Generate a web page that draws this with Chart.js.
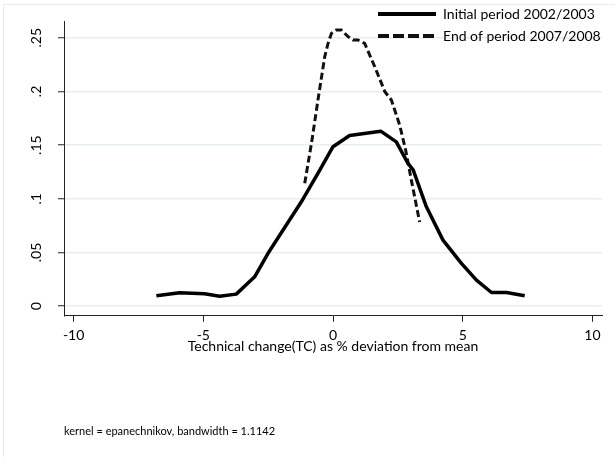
<!DOCTYPE html>
<html>
<head>
<meta charset="utf-8">
<script src="https://cdn.jsdelivr.net/npm/chart.js@4/dist/chart.umd.min.js"></script>
<style>
  body { margin: 0; background: #fff; }
  #frame { position: absolute; left: 3px; top: 4px; width: 640px; height: 480px;
           border-left: 1px solid #e4ecef; border-top: 1px solid #e4ecef; }
  #kdens { position: absolute; left: 0; top: 0; }
</style>
</head>
<body>
<div id="frame"></div>
<canvas id="kdens" width="615" height="457"></canvas>
<script>
// kernel density, initial period 2002/2003
const initX = [-6.81, -5.91, -4.95, -4.37, -3.73, -3.02, -2.51, -1.22, -0.51, 0.0, 0.64, 1.84, 2.44, 2.89, 3.09, 3.6, 4.24, 4.95, 5.53, 6.11, 6.69, 7.39]
const initY = [0.0096, 0.0124, 0.0115, 0.0093, 0.0112, 0.0273, 0.049, 0.0972, 0.1267, 0.1485, 0.159, 0.163, 0.153, 0.133, 0.127, 0.0925, 0.0615, 0.0398, 0.0242, 0.0127, 0.0127, 0.0096]

// end of period 2007/2008
const endX = [-1.09, -0.83, -0.58, -0.32, -0.19, -0.06, 0.13, 0.32, 0.58, 0.77, 0.96, 1.22, 1.61, 2.0, 2.25, 2.57, 2.8, 3.02, 3.34]
const endY = [0.1144, 0.1516, 0.192, 0.2323, 0.2448, 0.2541, 0.2572, 0.2572, 0.251, 0.2479, 0.2479, 0.2448, 0.223, 0.1997, 0.192, 0.1687, 0.1454, 0.1174, 0.0783]

const seriesNames = ['Initial period 2002/2003', 'End of period 2007/2008']
const xTicks = [-10, -5, 0, 5, 10]
const xTickLabels = ['-10', '-5', '0', '5', '10']
const yTicks = [0, 0.05, 0.1, 0.15, 0.2, 0.25]
const yTickLabels = ['0', '.05', '.1', '.15', '.2', '.25']
const xTitle = 'Technical change(TC) as % deviation from mean'
const note = 'kernel = epanechnikov, bandwidth = 1.1142'

const toPoints = (xs, ys) => xs.map((x, i) => ({ x: x, y: ys[i] }))

// legend sits inside the plot region (top right), so keep it out of the layout
const floatLegend = {
    id: 'floatLegend',
    beforeLayout(chart) {
        const lg = chart.legend
        if (!lg || lg._floating) return
        lg._floating = true
        const upd = lg.update.bind(lg)
        lg.update = (w, h, m) => {
            upd(w, h, m)
            lg._h = lg.height
            lg.width = 0
        }
    },
    afterLayout(chart) {
        const lg = chart.legend
        lg.left = 370
        lg.right = 615
        lg.width = lg.right - lg.left
        lg.top = -1
        lg.height = lg._h
        lg.bottom = lg.top + lg.height
    }
}

const axisColor = '#222'
const gridColor = '#e6eef2'

const config = {
    type: 'line',
    data: {
        datasets: [{
            label: seriesNames[0],
            data: toPoints(initX, initY),
            borderColor: '#000',
            backgroundColor: '#000',
            borderWidth: 3.5,
            pointRadius: 0,
            tension: 0,
            borderJoinStyle: 'round'
        },
        {
            label: seriesNames[1],
            data: toPoints(endX, endY),
            borderColor: '#111',
            backgroundColor: '#111',
            borderWidth: 3,
            borderDash: [7, 3.5],
            pointRadius: 0,
            tension: 0
        }]
    },
    options: {
        responsive: false,
        animation: false,
        devicePixelRatio: 1,
        layout: { padding: { top: 21, right: 13, left: 0, bottom: 0 } },
        scales: {
            x: {
                type: 'linear',
                min: -10.37,
                max: 10.37,
                afterBuildTicks: (s) => { s.ticks = xTicks.map(v => ({ value: v })) },
                afterFit: (s) => { s.height = 39 },
                ticks: {
                    color: '#000',
                    font: { family: 'Lato', size: 14 },
                    padding: 5,
                    maxRotation: 0,
                    callback: (v) => xTickLabels[xTicks.indexOf(v)]
                },
                grid: { drawOnChartArea: false, tickLength: 6, tickColor: axisColor, tickWidth: 1 },
                border: { color: axisColor, width: 1 },
                title: {
                    display: true,
                    text: xTitle,
                    color: '#000',
                    font: { family: 'Lato', size: 14 },
                    padding: { top: 0, bottom: 0 }
                }
            },
            y: {
                type: 'linear',
                min: -0.009,
                max: 0.2656,
                afterBuildTicks: (s) => { s.ticks = yTicks.map(v => ({ value: v })) },
                afterFit: (s) => { s.width = 64 },
                ticks: {
                    color: '#000',
                    font: { family: 'Lato', size: 14 },
                    padding: 12,
                    minRotation: 90,
                    maxRotation: 90,
                    crossAlign: 'center',
                    callback: (v) => yTickLabels[yTicks.indexOf(v)]
                },
                grid: { color: gridColor, lineWidth: 1.5, tickLength: 6, tickColor: axisColor, tickWidth: 1 },
                border: { color: axisColor, width: 1 }
            }
        },
        plugins: {
            legend: {
                position: 'right',
                align: 'start',
                labels: {
                    usePointStyle: true,
                    pointStyle: 'line',
                    pointStyleWidth: 58,
                    padding: 8,
                    color: '#000',
                    font: { family: 'Lato', size: 14 },
                    generateLabels: (chart) => {
                        const items = Chart.defaults.plugins.legend.labels.generateLabels(chart)
                        items.forEach(it => {
                            const ds = chart.data.datasets[it.datasetIndex]
                            it.lineWidth = 4
                            it.strokeStyle = ds.borderColor
                            it.lineDash = ds.borderDash ? [11, 4] : []
                        })
                        return items
                    }
                }
            },
            subtitle: {
                display: true,
                position: 'bottom',
                align: 'start',
                fullSize: false,
                text: note,
                color: '#000',
                font: { family: 'Lato', size: 11, weight: 'normal' },
                padding: { top: 70, bottom: 19 }
            },
            tooltip: { enabled: false }
        }
    },
    plugins: [floatLegend]
}

const kdensChart = new Chart(document.getElementById('kdens'), config)
</script>
</body>
</html>
